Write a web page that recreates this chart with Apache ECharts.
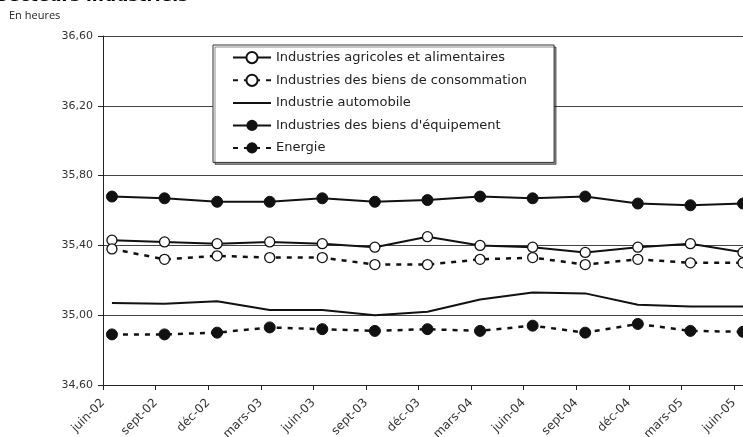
<!DOCTYPE html>
<html>
<head>
<meta charset="utf-8">
<script src="https://cdn.jsdelivr.net/npm/echarts@6/dist/echarts.min.js"></script>
<style>html,body{margin:0;padding:0;background:#fff}#c{width:743px;height:437px}</style>
</head>
<body>
<div id="c"></div>
<script>
var categories = ['juin-02','sept-02','déc-02','mars-03','juin-03','sept-03','déc-03','mars-04','juin-04','sept-04','déc-04','mars-05','juin-05'];
var iaa = [35.43,35.42,35.41,35.42,35.41,35.39,35.45,35.40,35.39,35.36,35.39,35.41,35.36];
var ibc = [35.38,35.32,35.34,35.33,35.33,35.29,35.29,35.32,35.33,35.29,35.32,35.30,35.30];
var auto = [35.07,35.065,35.08,35.03,35.03,35.00,35.02,35.09,35.13,35.125,35.06,35.05,35.05];
var ibe = [35.68,35.67,35.65,35.65,35.67,35.65,35.66,35.68,35.67,35.68,35.64,35.63,35.64];
var energie = [34.89,34.89,34.90,34.93,34.92,34.91,34.92,34.91,34.94,34.90,34.95,34.91,34.905];
var seriesNames = ['Industries agricoles et alimentaires','Industries des biens de consommation','Industrie automobile',"Industries des biens d'équipement",'Energie'];
var yTicks = ['34,60','35,00','35,40','35,80','36,20','36,60'];

var FONT = '"DejaVu Sans", sans-serif';
var LFONT = '"Open Sans", sans-serif';
var X_OFFSET = 0.17;
function pts(vals){ return vals.map(function(v,i){ return [i, v]; }); }

var chart = echarts.init(document.getElementById('c'), null, {renderer:'canvas'});
var dash = [5,6];
var clear = 'rgba(0,0,0,0)';
chart.setOption({
  animation: false,
  backgroundColor: '#fff',
  title: [
    {text: 'Secteurs industriels', left: -9, top: -17, textStyle: {fontFamily: FONT, fontSize: 17, fontWeight: 'bold', color: '#000'}},
    {text: 'En heures', left: 9, top: 10, padding: 0, textStyle: {fontFamily: LFONT, fontSize: 11, fontWeight: 'normal', color: '#222'}}
  ],
  legend: {
    orient: 'vertical', left: 213, top: 45,
    padding: [6, 27, 8, 19], itemGap: 9.5, itemWidth: 38, itemHeight: 14,
    backgroundColor: '#fff', borderColor: '#333', borderWidth: 1,
    shadowColor: 'rgba(0,0,0,0.45)', shadowOffsetX: 2, shadowOffsetY: 2, shadowBlur: 0,
    textStyle: {fontFamily: FONT, fontSize: 13, color: '#222'},
    data: [seriesNames[0], seriesNames[1],
      {name: seriesNames[2], itemStyle: {color: clear, borderColor: clear, borderWidth: 0}},
      seriesNames[3], seriesNames[4]]
  },
  grid: {left: 103, top: 36, right: 0, height: 349, containLabel: false, outerBoundsMode: 'none'},
  xAxis: {
    type: 'value', min: -X_OFFSET, max: 12, interval: 1,
    axisLine: {show: true, onZero: false, lineStyle: {color: '#222', width: 1}},
    axisTick: {show: true, length: 5, inside: false, lineStyle: {color: '#222'}},
    splitLine: {show: false},
    axisLabel: {rotate: 45, margin: 16, fontFamily: FONT, fontSize: 12, color: '#333', showMaxLabel: false,
      formatter: function(v){ var k = Math.round(v + X_OFFSET); return categories[k] || ''; }}
  },
  yAxis: {
    type: 'value', min: 34.6, max: 36.6, interval: 0.4,
    axisLine: {show: true, onZero: false, lineStyle: {color: '#222', width: 1}},
    axisTick: {show: true, length: 5, lineStyle: {color: '#222'}},
    splitLine: {show: true, lineStyle: {color: '#444', width: 1}},
    axisLabel: {margin: 10, fontFamily: FONT, fontSize: 11, color: '#333',
      formatter: function(v){ var k = Math.round((v - 34.6) / 0.4); return yTicks[k]; }}
  },
  series: [
    {name: seriesNames[0], type: 'line', data: pts(iaa), symbol: 'circle', symbolSize: 10, clip: false,
      lineStyle: {color: '#111', width: 2}, itemStyle: {color: '#fff', borderColor: '#111', borderWidth: 1.3}, z: 3},
    {name: seriesNames[1], type: 'line', data: pts(ibc), symbol: 'circle', symbolSize: 10, clip: false,
      lineStyle: {color: '#111', width: 2.5, type: dash}, itemStyle: {color: '#fff', borderColor: '#111', borderWidth: 1.3}, z: 3},
    {name: seriesNames[2], type: 'line', data: pts(auto), symbol: 'circle', showSymbol: false, clip: false,
      lineStyle: {color: '#111', width: 2}, itemStyle: {color: '#111'}, z: 2},
    {name: seriesNames[3], type: 'line', data: pts(ibe), symbol: 'circle', symbolSize: 11, clip: false,
      lineStyle: {color: '#111', width: 2}, itemStyle: {color: '#111', borderColor: '#111'}, z: 3},
    {name: seriesNames[4], type: 'line', data: pts(energie), symbol: 'circle', symbolSize: 11, clip: false,
      lineStyle: {color: '#111', width: 2.5, type: dash}, itemStyle: {color: '#111', borderColor: '#111'}, z: 3}
  ]
});
</script>
</body>
</html>
